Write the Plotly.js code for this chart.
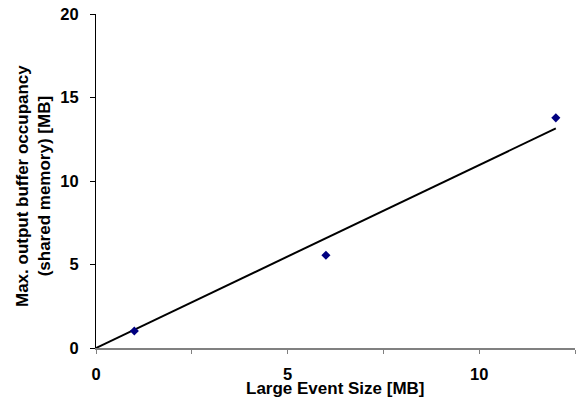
<!DOCTYPE html>
<html>
<head>
<meta charset="utf-8">
<script src="https://cdn.plot.ly/plotly-3.0.1.min.js"></script>
<style>html,body{margin:0;padding:0;background:#fff;}#chart{width:576px;height:400px;}
.xtick text, .ytick text{font-weight:bold !important;}</style>
</head>
<body>
<div id="chart"></div>
<script>
// Measured points
var eventSize = [1, 6, 12];
var bufferOccupancy = [1.02, 5.55, 13.78];
// Linear fit line (through origin)
var fitX = [0, 12];
var fitY = [0, 13.15];
// Tick labels
var xTickVals = [0, 2.5, 5, 7.5, 10, 12.5];
var xTickText = ['0', '', '5', '', '10', ''];
var yTickVals = [0, 5, 10, 15, 20];
var yTickText = ['0', '5', '10', '15', '20'];
var xTitle = 'Large Event Size [MB]';
var yTitle = ['Max. output buffer occupancy', '(shared memory) [MB]'];

function bold(s) { return s === '' ? '' : '<b>' + s + '</b>'; }

var fam = 'Liberation Sans, Arial, sans-serif';
var tickFont = {family: fam, size: 16.5, color: '#000', weight: 700};
var titleFont = {family: fam, size: 17, color: '#000'};

var traces = [
  {x: fitX, y: fitY, type: 'scatter', mode: 'lines', line: {color: '#000', width: 2}, hoverinfo: 'skip'},
  {x: eventSize, y: bufferOccupancy, type: 'scatter', mode: 'markers',
   marker: {symbol: 'diamond', size: 7, color: '#000080'}}
];

var layout = {
  width: 576, height: 400,
  margin: {l: 96, r: 1, t: 14, b: 52},
  paper_bgcolor: '#fff', plot_bgcolor: '#fff',
  showlegend: false,
  font: titleFont,
  xaxis: {
    range: [0, 12.5], showgrid: false, zeroline: false,
    showline: true, linecolor: '#808080', linewidth: 1.5,
    ticks: 'outside', ticklen: 4, tickcolor: '#808080', tickwidth: 1,
    tickvals: xTickVals, ticktext: xTickText,
    ticklabelstandoff: 7,
    tickfont: tickFont
  },
  yaxis: {
    range: [0, 20], showgrid: false, zeroline: false,
    showline: true, linecolor: '#000', linewidth: 1,
    ticks: 'outside', ticklen: 5, tickcolor: '#000', tickwidth: 1,
    tickvals: yTickVals, ticktext: yTickText,
    ticklabelstandoff: 8,
    tickfont: tickFont
  },
  annotations: [
    {text: bold(xTitle), xref: 'paper', yref: 'paper', x: 0.5, y: -0.12,
     xanchor: 'center', yanchor: 'middle', showarrow: false, font: titleFont},
    {text: bold(yTitle[0]) + '<br>' + bold(yTitle[1]), xref: 'paper', yref: 'paper',
     x: -0.1315, y: 0.485, xanchor: 'center', yanchor: 'middle', textangle: -90,
     showarrow: false, font: titleFont}
  ]
};

Plotly.newPlot('chart', traces, layout, {displayModeBar: false, staticPlot: true});
</script>
</body>
</html>
